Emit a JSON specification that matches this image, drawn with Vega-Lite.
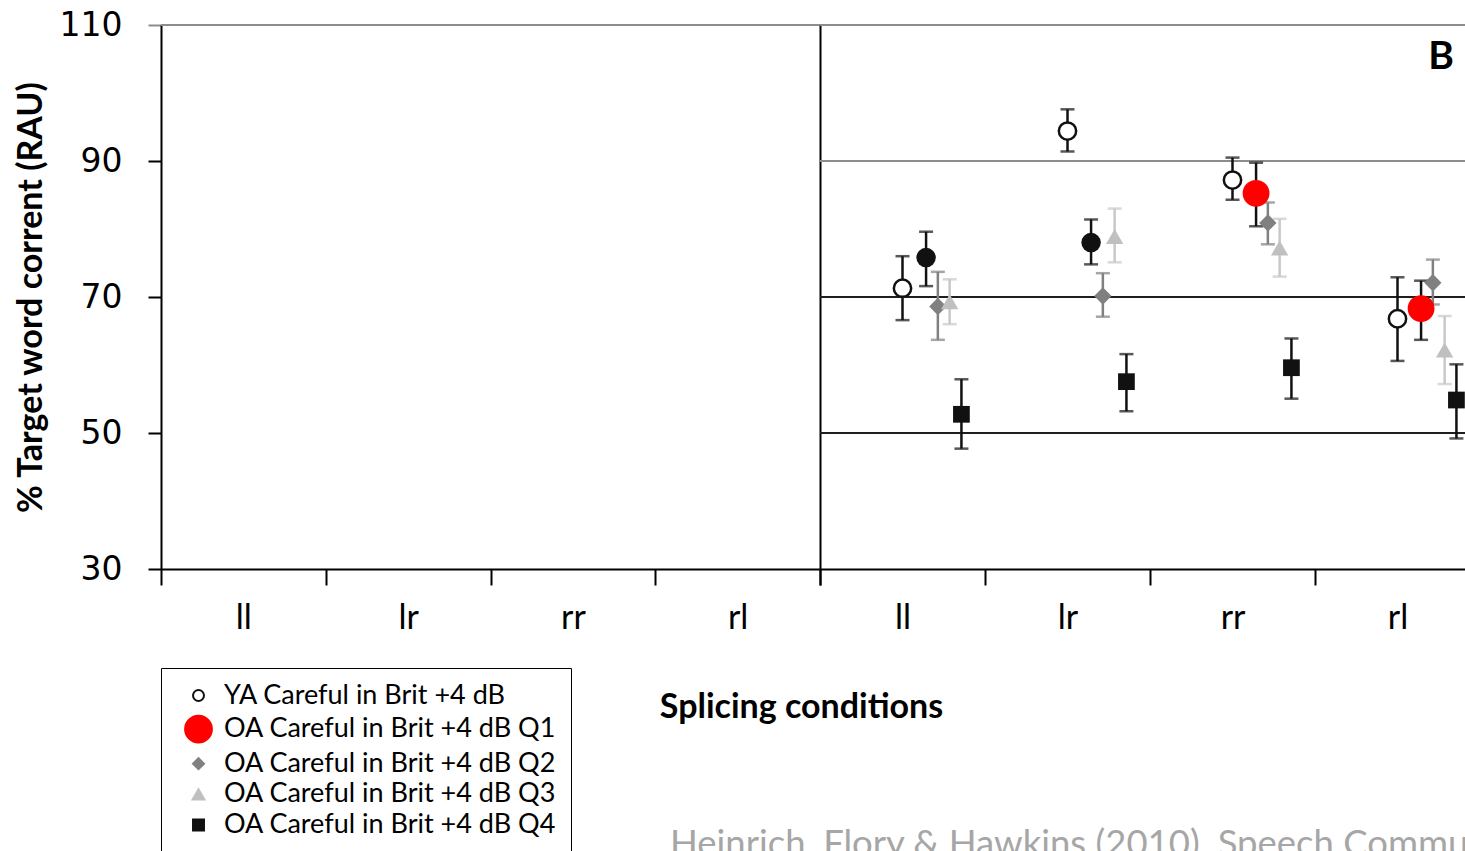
{
  "$schema": "https://vega.github.io/schema/vega-lite/v6.json",
  "background": "white",
  "padding": {"left": 14, "top": 9, "right": 0, "bottom": 0},
  "bounds": "flush",
  "spacing": 0,
  "config": {
    "view": {"stroke": null},
    "font": "Lato",
    "axis": {"domainColor": "black", "domainWidth": 2, "tickColor": "black", "tickWidth": 2, "labelColor": "black", "titleColor": "black", "grid": false},
    "legend": {"orient": "none", "legendX": 0, "legendY": 643, "title": null, "strokeColor": "black", "padding": 14, "labelFontSize": 27, "labelFont": "Lato", "labelColor": "black", "symbolStrokeWidth": 2, "symbolOffset": 9, "labelOffset": 11, "rowPadding": 2.6, "labelLimit": 600}
  },
  "datasets": {
    "results": [
      {"panel": "B", "condition": "ll", "series": "YA Careful in Brit +4 dB", "mean": 71.3, "lower": 66.6, "upper": 76.0},
      {"panel": "B", "condition": "ll", "series": "OA Careful in Brit +4 dB Q1", "mean": 75.8, "lower": 71.6, "upper": 79.6, "highlight": false},
      {"panel": "B", "condition": "ll", "series": "OA Careful in Brit +4 dB Q2", "mean": 68.6, "lower": 63.7, "upper": 73.7},
      {"panel": "B", "condition": "ll", "series": "OA Careful in Brit +4 dB Q3", "mean": 69.3, "lower": 66.0, "upper": 72.6},
      {"panel": "B", "condition": "ll", "series": "OA Careful in Brit +4 dB Q4", "mean": 52.75, "lower": 47.7, "upper": 57.9},
      {"panel": "B", "condition": "lr", "series": "YA Careful in Brit +4 dB", "mean": 94.4, "lower": 91.4, "upper": 97.6},
      {"panel": "B", "condition": "lr", "series": "OA Careful in Brit +4 dB Q1", "mean": 78.0, "lower": 74.8, "upper": 81.4, "highlight": false},
      {"panel": "B", "condition": "lr", "series": "OA Careful in Brit +4 dB Q2", "mean": 70.15, "lower": 67.1, "upper": 73.5},
      {"panel": "B", "condition": "lr", "series": "OA Careful in Brit +4 dB Q3", "mean": 78.9, "lower": 75.1, "upper": 83.0},
      {"panel": "B", "condition": "lr", "series": "OA Careful in Brit +4 dB Q4", "mean": 57.55, "lower": 53.2, "upper": 61.6},
      {"panel": "B", "condition": "rr", "series": "YA Careful in Brit +4 dB", "mean": 87.2, "lower": 84.3, "upper": 90.5},
      {"panel": "B", "condition": "rr", "series": "OA Careful in Brit +4 dB Q1", "mean": 85.25, "lower": 80.4, "upper": 89.75, "highlight": true},
      {"panel": "B", "condition": "rr", "series": "OA Careful in Brit +4 dB Q2", "mean": 80.9, "lower": 77.75, "upper": 83.9},
      {"panel": "B", "condition": "rr", "series": "OA Careful in Brit +4 dB Q3", "mean": 77.2, "lower": 73.0, "upper": 81.5},
      {"panel": "B", "condition": "rr", "series": "OA Careful in Brit +4 dB Q4", "mean": 59.6, "lower": 55.05, "upper": 63.9},
      {"panel": "B", "condition": "rl", "series": "YA Careful in Brit +4 dB", "mean": 66.8, "lower": 60.6, "upper": 72.9},
      {"panel": "B", "condition": "rl", "series": "OA Careful in Brit +4 dB Q1", "mean": 68.3, "lower": 63.7, "upper": 72.4, "highlight": true},
      {"panel": "B", "condition": "rl", "series": "OA Careful in Brit +4 dB Q2", "mean": 72.1, "lower": 68.9, "upper": 75.5},
      {"panel": "B", "condition": "rl", "series": "OA Careful in Brit +4 dB Q3", "mean": 62.2, "lower": 57.2, "upper": 67.2},
      {"panel": "B", "condition": "rl", "series": "OA Careful in Brit +4 dB Q4", "mean": 54.85, "lower": 49.2, "upper": 60.1}
    ],
    "refs": [
      {"panel": "A", "level": 110},
      {"panel": "B", "level": 110},
      {"panel": "B", "level": 90},
      {"panel": "B", "level": 70},
      {"panel": "B", "level": 50}
    ]
  },
  "hconcat": [
    {
      "width": 659,
      "height": 544,
      "title": {"text": "Heinrich, Flory & Hawkins (2010). Speech Communication", "orient": "bottom", "anchor": "start", "frame": "group", "offset": 192, "dx": 509, "fontSize": 36.5, "fontWeight": "normal", "color": "#a6a6a6", "font": "Lato"},
      "layer": [
        {
          "data": {"name": "refs"},
          "transform": [{"filter": "datum.panel === 'A'"}],
          "mark": {"type": "rule", "strokeWidth": 2, "color": "#8c8c8c"},
          "encoding": {
            "y": {"field": "level", "type": "quantitative", "title": "% Target word corrent (RAU)",
              "scale": {"domain": [30, 110], "nice": false, "zero": false},
              "axis": {"values": [30, 50, 70, 90, 110], "tickSize": 13, "labelFont": "DejaVu Sans", "labelFontSize": 33, "labelPadding": 26, "title": "% Target word corrent (RAU)", "titleFont": "Lato", "titleFontSize": 34, "titleFontWeight": "bold", "titlePadding": 11, "tickColor": {"condition": {"test": "datum.value === 110", "value": "#8c8c8c"}, "value": "black"}}}
          }
        },
        {
          "data": {"name": "results"},
          "transform": [{"filter": "datum.panel === 'A'"}],
          "mark": "point",
          "encoding": {
            "x": {"field": "condition", "type": "nominal", "sort": null,
              "scale": {"type": "band", "domain": ["ll", "lr", "rr", "rl"], "paddingInner": 0, "paddingOuter": 0},
              "axis": {"tickBand": "extent", "tickSize": 16, "labelFontSize": 34, "labelPadding": 16, "labelAngle": 0, "title": null, "labelFont": "Lato"}},
            "y": {"field": "mean", "type": "quantitative", "title": "% Target word corrent (RAU)"}
          }
        }
      ]
    },
    {
      "width": 660,
      "height": 544,
      "title": {"text": "B", "orient": "top", "anchor": "end", "frame": "group", "offset": -53, "dx": -26, "fontSize": 39, "fontWeight": "bold", "color": "black", "font": "Lato"},
      "layer": [
        {
          "data": {"name": "refs"},
          "transform": [{"filter": "datum.panel === 'B'"}],
          "mark": {"type": "rule", "strokeWidth": 2},
          "encoding": {
            "y": {"field": "level", "type": "quantitative",
              "scale": {"domain": [30, 110], "nice": false, "zero": false},
              "axis": {"labels": false, "ticks": false, "title": null, "domain": true}},
            "stroke": {"condition": {"test": "datum.level >= 90", "value": "#8c8c8c"}, "value": "#1e1e1e"}
          }
        },
        {
          "data": {"name": "results"},
          "transform": [{"filter": "datum.panel === 'B'"}],
          "mark": {"type": "rule", "strokeWidth": 2.5},
          "encoding": {
            "x": {"field": "condition", "type": "nominal", "sort": null,
              "scale": {"type": "band", "domain": ["ll", "lr", "rr", "rl"], "paddingInner": 0, "paddingOuter": 0},
              "axis": {"tickBand": "extent", "tickSize": 16, "labelFontSize": 34, "labelPadding": 16, "labelAngle": 0, "labelFont": "Lato", "title": "Splicing conditions", "titleFont": "Lato", "titleFontSize": 34, "titleFontWeight": "bold", "titleX": -19, "titleY": 148, "titleAlign": "center", "titleBaseline": "alphabetic"}},
            "xOffset": {"field": "series", "type": "nominal",
              "scale": {"type": "point", "padding": 0, "domain": ["s0", "s1", "s2", "s3", "s4", "s5", "s6", "YA Careful in Brit +4 dB", "s8", "OA Careful in Brit +4 dB Q1", "OA Careful in Brit +4 dB Q2", "OA Careful in Brit +4 dB Q3", "OA Careful in Brit +4 dB Q4", "s13", "s14"]}},
            "y": {"field": "lower", "type": "quantitative", "axis": {"labels": false, "ticks": false, "title": null, "domain": true}},
            "y2": {"field": "upper"},
            "color": {"condition": [{"test": "datum.series === 'OA Careful in Brit +4 dB Q2'", "value": "#808080"}, {"test": "datum.series === 'OA Careful in Brit +4 dB Q3'", "value": "#c8c8c8"}], "value": "#111111"}
          }
        },
        {
          "data": {"name": "results"},
          "transform": [{"filter": "datum.panel === 'B'"}],
          "mark": {"type": "tick", "size": 14, "thickness": 2.5, "orient": "horizontal"},
          "encoding": {
            "x": {"field": "condition", "type": "nominal", "sort": null},
            "xOffset": {"field": "series", "type": "nominal"},
            "y": {"field": "lower", "type": "quantitative", "axis": {"labels": false, "ticks": false, "title": null, "domain": true}},
            "color": {"condition": [{"test": "datum.series === 'OA Careful in Brit +4 dB Q2'", "value": "#808080"}, {"test": "datum.series === 'OA Careful in Brit +4 dB Q3'", "value": "#c8c8c8"}], "value": "#111111"}
          }
        },
        {
          "data": {"name": "results"},
          "transform": [{"filter": "datum.panel === 'B'"}],
          "mark": {"type": "tick", "size": 14, "thickness": 2.5, "orient": "horizontal"},
          "encoding": {
            "x": {"field": "condition", "type": "nominal", "sort": null},
            "xOffset": {"field": "series", "type": "nominal"},
            "y": {"field": "upper", "type": "quantitative", "axis": {"labels": false, "ticks": false, "title": null, "domain": true}},
            "color": {"condition": [{"test": "datum.series === 'OA Careful in Brit +4 dB Q2'", "value": "#808080"}, {"test": "datum.series === 'OA Careful in Brit +4 dB Q3'", "value": "#c8c8c8"}], "value": "#111111"}
          }
        },
        {
          "data": {"name": "results"},
          "transform": [{"filter": "datum.panel === 'B'"}],
          "mark": {"type": "point", "filled": true, "opacity": 1},
          "encoding": {
            "x": {"field": "condition", "type": "nominal", "sort": null},
            "xOffset": {"field": "series", "type": "nominal"},
            "y": {"field": "mean", "type": "quantitative", "axis": {"labels": false, "ticks": false, "title": null, "domain": true}},
            "fill": {"condition": {"test": "datum.highlight === false", "value": "#111111"}, "field": "series", "type": "nominal",
              "scale": {"domain": ["YA Careful in Brit +4 dB", "OA Careful in Brit +4 dB Q1", "OA Careful in Brit +4 dB Q2", "OA Careful in Brit +4 dB Q3", "OA Careful in Brit +4 dB Q4"], "range": ["white", "#ff0000", "#808080", "#c0c0c0", "#111111"]}},
            "stroke": {"condition": {"test": "datum.highlight === false", "value": "#111111"}, "field": "series", "type": "nominal",
              "scale": {"domain": ["YA Careful in Brit +4 dB", "OA Careful in Brit +4 dB Q1", "OA Careful in Brit +4 dB Q2", "OA Careful in Brit +4 dB Q3", "OA Careful in Brit +4 dB Q4"], "range": ["#111111", "#ff0000", "#808080", "#c0c0c0", "#111111"]}},
            "strokeWidth": {"condition": {"test": "datum.series === 'YA Careful in Brit +4 dB'", "value": 2.5}, "value": 0},
            "shape": {"field": "series", "type": "nominal",
              "scale": {"domain": ["YA Careful in Brit +4 dB", "OA Careful in Brit +4 dB Q1", "OA Careful in Brit +4 dB Q2", "OA Careful in Brit +4 dB Q3", "OA Careful in Brit +4 dB Q4"], "range": ["circle", "circle", "diamond", "triangle-up", "square"]}},
            "size": {"condition": [{"test": "datum.highlight === false", "value": 380}, {"test": "datum.series === 'OA Careful in Brit +4 dB Q4'", "value": 280}, {"test": "datum.series !== 'OA Careful in Brit +4 dB Q1'", "value": 300}], "field": "series", "type": "nominal",
              "scale": {"type": "ordinal", "domain": ["YA Careful in Brit +4 dB", "OA Careful in Brit +4 dB Q1", "OA Careful in Brit +4 dB Q2", "OA Careful in Brit +4 dB Q3", "OA Careful in Brit +4 dB Q4"], "range": [120, 720, 120, 140, 120]}}
          }
        }
      ]
    }
  ]
}
